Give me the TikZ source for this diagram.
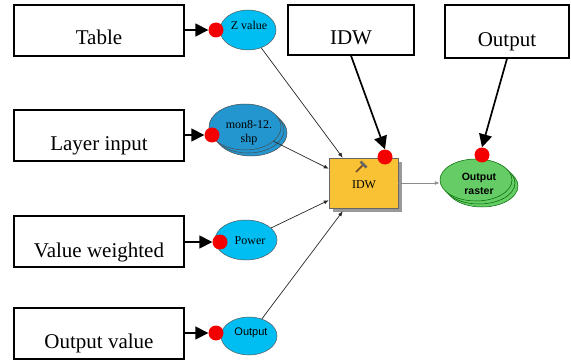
\documentclass[tikz,border=0pt]{standalone}
\usepackage{fontspec}
\setmainfont{Liberation Serif}
\newfontfamily\toolsans{Liberation Sans}
\usetikzlibrary{shapes.geometric,arrows.meta,shadows}

\definecolor{paramcyan}{RGB}{0,190,242}
\definecolor{layerblue}{RGB}{35,150,208}
\definecolor{tooly}{RGB}{248,194,52}
\definecolor{rastergreen}{RGB}{102,204,102}
\definecolor{dotred}{RGB}{245,0,0}

\begin{document}
\begin{tikzpicture}[x=1pt,y=-1pt,
  pbox/.style={draw=black, line width=1.3pt, fill=white, minimum width=170pt, minimum height=51pt, inner sep=0pt},
  ptext/.style={anchor=base, inner sep=0pt, font=\fontsize{21}{24}\selectfont},
  inval/.style={ellipse, draw=black!65, line width=0.5pt, fill=paramcyan, inner sep=0pt},
  layer/.style={ellipse, draw=black!70, line width=0.5pt, fill=layerblue, inner sep=0pt, minimum width=72pt, minimum height=46pt},
  rast/.style={ellipse, draw=black!60!green, line width=0.5pt, fill=rastergreen, inner sep=0pt, minimum width=72pt, minimum height=42pt},
  smalltxt/.style={inner sep=0pt, align=center, font=\fontsize{12}{14}\selectfont},
  sanstxt/.style={inner sep=0pt, align=center, font=\toolsans\fontsize{11}{14}\selectfont},
  reddot/.style={circle, fill=dotred, inner sep=0pt, minimum size=15pt},
  feed/.style={-{Triangle[length=13pt,width=13pt]}, line width=1.7pt},
  link/.style={-{Latex[length=5pt,width=4pt]}, line width=0.7pt, black!85},
]
\useasboundingbox (0,0) rectangle (571,361);

% parameter boxes on the left and the two header boxes
\node[pbox] (table) at (99,30.5) {};
\node[ptext] (tablet) at (99,45) {Table};
\node[pbox] (layerin) at (99,135.5) {};
\node[ptext] (layerint) at (99,150) {Layer input};
\node[pbox] (weighted) at (99,241.5) {};
\node[ptext] (weightedt) at (99,257) {Value weighted};
\node[pbox] (outval) at (99,333.5) {};
\node[ptext] (outvalt) at (99,348) {Output value};
\node[pbox, minimum width=126pt, minimum height=50pt] (idwtop) at (351,30) {};
\node[ptext] (idwtopt) at (351,45) {IDW};
\node[pbox, minimum width=124pt, minimum height=53pt] (outtop) at (507,31.5) {};
\node[ptext] (outtopt) at (507,47) {Output};

% model elements: inputs
\node[inval, minimum width=56pt, minimum height=40pt] (zval) at (248,30) {};
\node[smalltxt] (zvalt) at (249,25) {Z value};
\node[layer] (monc) at (251,133) {};
\node[layer] (monb) at (248,130) {};
\node[layer] (mon) at (245,127) {};
\node[smalltxt] (mont) at (249,133) {mon8-12.\\shp};
\node[inval, minimum width=62pt, minimum height=40pt] (power) at (246,240) {};
\node[smalltxt] (powert) at (250,241) {Power};
\node[inval, minimum width=56pt, minimum height=38pt] (outp) at (249,336) {};
\node[sanstxt] (outpt) at (251,333) {Output};

% tool and result
\node[draw=black!60, line width=0.5pt, fill=tooly, minimum width=69pt, minimum height=50pt, inner sep=0pt,
      drop shadow={shadow xshift=4pt, shadow yshift=-4pt, fill=black!40, opacity=1}] (idw) at (363.5,183) {};
\node[smalltxt] (idwt) at (364,185) {IDW};
\draw[line width=1.5pt, brown!60!black] (356,172) -- (363,165);
\draw[line width=2.6pt, black!60] (360.5,161.5) -- (366.5,167.5);
\node[rast] (rasc) at (482,186) {};
\node[rast] (rasb) at (479,183) {};
\node[rast] (ras) at (476,180) {};
\node[sanstxt, font=\toolsans\bfseries\fontsize{10.5}{14}\selectfont] (rast) at (479,184) {Output\\raster};

% connection points
\node[reddot] (zdot) at (216,30) {};
\node[reddot] (mondot) at (212,135) {};
\node[reddot] (powdot) at (220,242) {};
\node[reddot] (outdot) at (216,333) {};
\node[reddot] (idwdot) at (385,157) {};
\node[reddot] (rasdot) at (482,155) {};

% feeding arrows
\draw[feed] (table.east |- zdot) -- (zdot.west);
\draw[feed] (layerin.east |- mondot) -- (mondot.west);
\draw[feed] (weighted.east |- powdot) -- (powdot.west);
\draw[feed] (outval.east |- outdot) -- (outdot.west);
\draw[feed] (idwtop.south) -- (idwdot.north);
\draw[feed] (outtop.south) -- (rasdot.north);

% model links
\draw[link] (zval) -- ([xshift=14pt]idw.north west);
\draw[link] (mon) -- ([yshift=-11pt]idw.north west);
\draw[link] (power) -- ([yshift=8pt]idw.south west);
\draw[link] (outp) -- ([xshift=14pt,yshift=-3pt]idw.south west);
\draw[-{Latex[length=5pt,width=4pt]}, line width=0.8pt, black!45] (idw.east) -- (idw.east -| ras.west);
\end{tikzpicture}
\end{document}
